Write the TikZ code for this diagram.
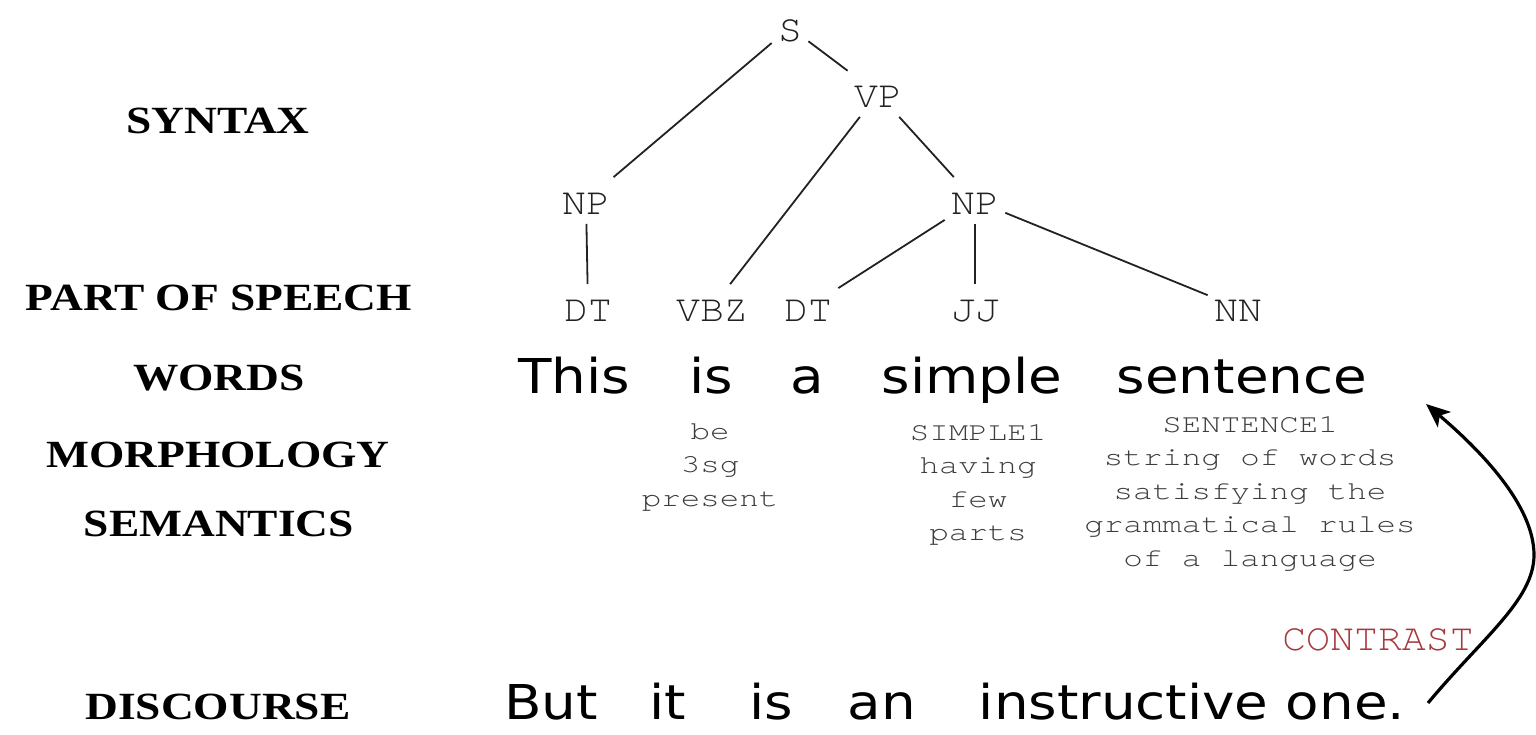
\documentclass[tikz,border=0pt]{standalone}
\usepackage{fontspec}
\usetikzlibrary{arrows.meta}
\newfontfamily\lblfont[FakeStretch=1.18]{Liberation Serif}
\newfontfamily\wordfont[FakeStretch=1.14]{DejaVu Sans}
\newfontfamily\treefont[FakeStretch=1.05]{TeX Gyre Cursor}
\newfontfamily\glossfont[FakeStretch=1.25]{TeX Gyre Cursor}
\definecolor{treegray}{HTML}{222222}
\definecolor{glossgray}{HTML}{3C3C3C}
\definecolor{contrastred}{HTML}{A8393F}
\begin{document}
\begin{tikzpicture}[x=0.5pt,y=-0.5pt,
  lvl/.style={font=\lblfont\bfseries\fontsize{19.25}{23}\selectfont, anchor=base, inner sep=0pt},
  tree/.style={font=\treefont\fontsize{19}{22}\selectfont, text=treegray, inner sep=3pt, text height=15.25pt, text depth=1.75pt, anchor=base},
  treeedge/.style={draw=treegray, line width=0.9pt},
  word/.style={font=\wordfont\fontsize{24}{28}\selectfont, anchor=base, inner sep=0pt},
  gloss/.style={font=\glossfont\fontsize{13}{16.75}\selectfont, text=glossgray, align=center, anchor=north, inner sep=0pt},
  contrastlbl/.style={font=\treefont\fontsize{19}{22}\selectfont, text=contrastred, inner sep=0pt},
  relarrow/.style={draw=black, line width=1.6pt, -{Stealth[length=12pt,width=10pt,inset=3pt]}}
]
\useasboundingbox (0,0) rectangle (1536,734);
\fill[white] (0,0) rectangle (1536,734);

% level labels
\node[lvl] (lsyn)  at (218,133) {SYNTAX};
\node[lvl] (lpos)  at (219,310) {PART OF SPEECH};
\node[lvl] (lword) at (219,390) {WORDS};
\node[lvl] (lmor)  at (218,467) {MORPHOLOGY};
\node[lvl] (lsem)  at (219,536) {SEMANTICS};
\node[lvl] (ldis)  at (218,719) {DISCOURSE};

% tree (anchored at baselines)
\node[tree] (S)   at (790,41)  {S};
\node[tree] (VP)  at (878,107) {VP};
\node[tree] (NP1) at (586,214) {NP};
\node[tree] (NP2) at (975,214) {NP};
\node[tree] (DT1) at (588,321) {DT};
\node[tree] (VBZ) at (712,321) {VBZ};
\node[tree] (DT2) at (808,321) {DT};
\node[tree] (JJ)  at (975,321) {JJ};
\node[tree] (NN)  at (1238,321) {NN};

\draw[treeedge] (S) -- (NP1);
\draw[treeedge] (S) -- (VP);
\draw[treeedge] (VP) -- (VBZ);
\draw[treeedge] (VP) -- (NP2);
\draw[treeedge] (NP1) -- (DT1);
\draw[treeedge] (NP2) -- (DT2);
\draw[treeedge] (NP2) -- (JJ);
\draw[treeedge] (NP2) -- (NN);

% words
\node[word] (w1) at (574,393)  {This};
\node[word] (w2) at (711,393)  {is};
\node[word] (w3) at (807,393)  {a};
\node[word] (w4) at (972,393)  {simple};
\node[word] (w5) at (1242,393) {sentence};

% morphology / semantics
\node[gloss] (gbe)   at (710,423)  {be\\3sg\\present};
\node[gloss] (gsim)  at (978,424)  {SIMPLE1\\having\\few\\parts};
\node[gloss] (gsent) at (1250,416) {SENTENCE1\\string of words\\satisfying the\\grammatical rules\\of a language};

% discourse
\node[word] (d1) at (551,719)  {But};
\node[word] (d2) at (668,719)  {it};
\node[word] (d3) at (771,719)  {is};
\node[word] (d4) at (882,719)  {an};
\node[word] (d5) at (1192,719) {instructive one.};

\node[contrastlbl] (contrast) at (1378,640) {CONTRAST};

\coordinate (ctail) at (1428,703);
\coordinate (cmid)  at (1534,555);
\coordinate (chead) at (1426,404);
\draw[relarrow] (ctail) .. controls (1482,638) and (1534,600) .. (cmid)
                        .. controls (1534,505) and (1480,450) .. (chead);
\end{tikzpicture}
\end{document}
